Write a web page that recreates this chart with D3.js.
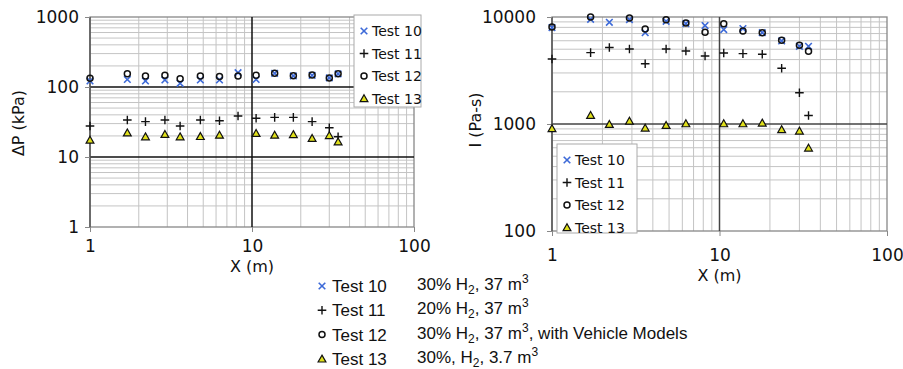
<!DOCTYPE html>
<html>
<head>
<meta charset="utf-8">
<script src="https://cdn.jsdelivr.net/npm/d3@7"></script>
<style>
  body { margin: 0; background: #fff; }
  svg text { font-family: "DejaVu Sans", sans-serif; fill: #111; }
  .axisTitle { font-size: 16px; }
  .legendLabel { font-size: 14px; }
  .keyText { font-family: "Liberation Sans", Arial, sans-serif; font-size: 17px; }
</style>
</head>
<body>
<script>
// shared sensor distances (m)
var xVals = [1, 1.7, 2.2, 2.9, 3.6, 4.8, 6.3, 8.2, 10.6, 13.8, 18, 23.5, 30, 34];
var testNames = ["Test 10", "Test 11", "Test 12", "Test 13"];
var testDesc = [
  ["30% H", "2", ", 37 m", "3", ""],
  ["20% H", "2", ", 37 m", "3", ""],
  ["30% H", "2", ", 37 m", "3", ", with Vehicle Models"],
  ["30%, H", "2", ", 3.7 m", "3", ""]
];

// overpressure dP (kPa)
var dpTest10 = [122, 128, 122, 126, 113, 126, 126, 160, 128, 157, 144, 147, 135, 154];
var dpTest11 = [27.7, 33.8, 32, 33.8, 27.7, 33.8, 33, 38.5, 35.7, 36.8, 36.8, 32, 26.2, 19.5];
var dpTest12 = [133, 154, 144, 147, 131, 144, 141, 144, 147, 157, 145, 148, 135, 154];
var dpTest13 = [17.5, 22.2, 19.5, 21.1, 19.5, 19.7, 20.6, null, 21.8, 20.6, 21, 18.5, 20.3, 16.5];

// impulse I (Pa-s)
var imTest10 = [7960, 9510, 8920, 9450, 7140, 9120, 8670, 8310, 7630, 7790, 7140, 5970, 5320, 5320];
var imTest11 = [4050, 4650, 5180, 5020, 3660, 5020, 4810, 4320, 4610, 4550, 4480, 3320, 1960, 1200];
var imTest12 = [8070, 10000, null, 9790, 7730, 9450, 8790, 7190, 8670, 7400, 7140, 6050, 5450, 4780];
var imTest13 = [906, 1205, 994, 1067, 918, 972, 1008, null, 1008, 1008, 1023, 887, 861, 597];

var xTicks = [1, 10, 100];
var dpTicks = [1, 10, 100, 1000];
var imTicks = [100, 1000, 10000];

var width = 903, height = 369;
var blue = "#3d6ad8", yellow = "#e0e01a";

var svg = d3.select("body").append("svg")
    .attr("width", width)
    .attr("height", height);

var symbols = ["cross", "plus", "circle", "tri"];

function marker(g, type, cx, cy) {
  if (type === "cross") {
    g.append("path")
      .attr("d", "M" + (cx-3.3) + "," + (cy-3.3) + "L" + (cx+3.3) + "," + (cy+3.3) +
                 "M" + (cx-3.3) + "," + (cy+3.3) + "L" + (cx+3.3) + "," + (cy-3.3))
      .style("stroke", blue).style("stroke-width", 1.6).style("fill", "none");
  } else if (type === "plus") {
    g.append("path")
      .attr("d", "M" + (cx-4.3) + "," + cy + "L" + (cx+4.3) + "," + cy +
                 "M" + cx + "," + (cy-4.3) + "L" + cx + "," + (cy+4.3))
      .style("stroke", "#111").style("stroke-width", 1.4).style("fill", "none");
  } else if (type === "circle") {
    g.append("circle")
      .attr("cx", cx).attr("cy", cy).attr("r", 3)
      .style("stroke", "#111").style("stroke-width", 1.5).style("fill", "none");
  } else {
    g.append("path")
      .attr("d", "M" + cx + "," + (cy-3.8) + "L" + (cx+3.9) + "," + (cy+3.1) +
                 "L" + (cx-3.9) + "," + (cy+3.1) + "Z")
      .style("stroke", "#111").style("stroke-width", 1.2).style("fill", yellow);
  }
}

function logPlot(opt) {
  var x = d3.scaleLog().domain([1, 100]).range([opt.left, opt.right]);
  var y = d3.scaleLog().domain(opt.yDomain).range([opt.bottom, opt.top]);
  var g = svg.append("g");

  // minor grid
  var xMinor = x.ticks().filter(function(d) { return xTicks.indexOf(d) < 0; });
  var yMinor = y.ticks().filter(function(d) { return opt.yTicks.indexOf(d) < 0; });

  g.selectAll("line.xminor").data(xMinor).enter().append("line")
    .attr("x1", d => x(d)).attr("x2", d => x(d))
    .attr("y1", opt.top).attr("y2", opt.bottom)
    .style("stroke", "#c4c4c4").style("stroke-width", 1);
  g.selectAll("line.yminor").data(yMinor).enter().append("line")
    .attr("y1", d => y(d)).attr("y2", d => y(d))
    .attr("x1", opt.left).attr("x2", opt.right)
    .style("stroke", "#c4c4c4").style("stroke-width", 1);

  // frame
  g.append("rect")
    .attr("x", opt.left).attr("y", opt.top)
    .attr("width", opt.right - opt.left).attr("height", opt.bottom - opt.top)
    .style("fill", "none").style("stroke", "#888").style("stroke-width", 1.3);

  // major grid
  var xMajor = xTicks.slice(1, -1), yMajor = opt.yTicks.slice(1, -1);
  g.selectAll("line.xmajor").data(xMajor).enter().append("line")
    .attr("x1", d => x(d)).attr("x2", d => x(d))
    .attr("y1", opt.top).attr("y2", opt.bottom)
    .style("stroke", opt.major).style("stroke-width", 1.5);
  g.selectAll("line.ymajor").data(yMajor).enter().append("line")
    .attr("y1", d => y(d)).attr("y2", d => y(d))
    .attr("x1", opt.left).attr("x2", opt.right)
    .style("stroke", opt.major).style("stroke-width", 1.5);
  g.append("line")
    .attr("x1", opt.left).attr("x2", opt.left)
    .attr("y1", opt.top).attr("y2", opt.bottom)
    .style("stroke", "#555").style("stroke-width", 1.5);

  // axes
  g.append("g")
    .attr("transform", "translate(0," + opt.bottom + ")")
    .call(d3.axisBottom(x).tickValues(xTicks).tickFormat(d3.format("d"))
          .tickSize(5).tickPadding(opt.xPad))
    .call(a => a.select(".domain").remove())
    .call(a => a.selectAll("line").style("stroke", "#888"))
    .call(a => a.selectAll("text").style("font-size", "17px").style("font-family", "DejaVu Sans"));
  g.append("g")
    .attr("transform", "translate(" + opt.left + ",0)")
    .call(d3.axisLeft(y).tickValues(opt.yTicks).tickFormat(d3.format("d"))
          .tickSize(5).tickPadding(opt.yPad))
    .call(a => a.select(".domain").remove())
    .call(a => a.selectAll("line").style("stroke", "#888"))
    .call(a => a.selectAll("text").style("font-size", "17px").style("font-family", "DejaVu Sans"));

  g.append("text")
    .attr("class", "axisTitle")
    .attr("text-anchor", "middle")
    .attr("x", (opt.left + x(100)) / 2)
    .attr("y", opt.xTitleY)
    .text("X (m)");
  g.append("text")
    .attr("class", "axisTitle")
    .attr("text-anchor", "middle")
    .attr("transform", "translate(" + opt.yTitleX + "," + opt.yTitleY + ") rotate(-90)")
    .text(opt.yTitle);

  // points
  opt.series.forEach(function(vals, k) {
    vals.forEach(function(v, i) {
      if (v !== null) marker(g, symbols[k], x(xVals[i]), y(v));
    });
  });

  // legend box
  var lg = g.append("g");
  lg.append("rect")
    .attr("x", opt.legend.x).attr("y", opt.legend.y)
    .attr("width", opt.legend.w).attr("height", opt.legend.h)
    .style("fill", "#fff").style("stroke", "#aaa").style("stroke-width", 1);
  testNames.forEach(function(name, k) {
    var cy = opt.legend.y + 16 + k * 22.5;
    marker(lg, symbols[k], opt.legend.x + 10, cy);
    lg.append("text")
      .attr("class", "legendLabel")
      .attr("x", opt.legend.x + 18)
      .attr("y", cy + 5)
      .text(name);
  });
}

logPlot({
  left: 90, right: 414, top: 17, bottom: 227,
  yDomain: [1, 1000], yTicks: dpTicks, major: "#111",
  xPad: 8, yPad: 6, xTitleY: 272,
  yTitle: "\u0394P (kPa)", yTitleX: 24, yTitleY: 123,
  series: [dpTest10, dpTest11, dpTest12, dpTest13],
  legend: {x: 354, y: 15, w: 67, h: 92}
});

logPlot({
  left: 552, right: 887, top: 17, bottom: 231,
  yDomain: [100, 10000], yTicks: imTicks, major: "#444",
  xPad: 13, yPad: 11, xTitleY: 281,
  yTitle: "I (Pa-s)", yTitleX: 481, yTitleY: 120,
  series: [imTest10, imTest11, imTest12, imTest13],
  legend: {x: 557, y: 144, w: 80, h: 89}
});

// key below the charts
var key = svg.append("g");
testNames.forEach(function(name, k) {
  var cy = 286 + k * 24.3;
  marker(key, symbols[k], 322, cy);
  key.append("text").attr("class", "keyText")
    .attr("x", 332).attr("y", cy + 6).text(name);
  var d = testDesc[k];
  var t = key.append("text").attr("class", "keyText")
    .attr("x", 417).attr("y", cy + 4);
  t.append("tspan").text(d[0]);
  t.append("tspan").attr("dy", 4).style("font-size", "12px").text(d[1]);
  t.append("tspan").attr("dy", -4).text(d[2]);
  t.append("tspan").attr("dy", -7).style("font-size", "12px").text(d[3]);
  t.append("tspan").attr("dy", 7).text(d[4]);
});
</script>
</body>
</html>
